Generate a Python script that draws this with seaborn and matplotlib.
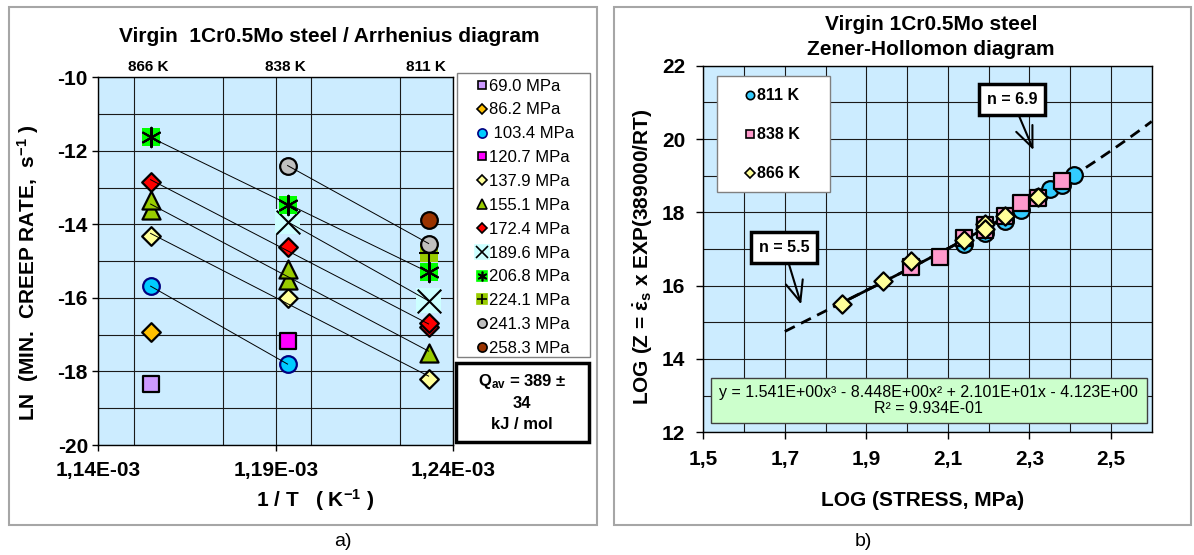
import matplotlib
matplotlib.use("Agg")
import matplotlib.pyplot as plt
from matplotlib.lines import Line2D
from matplotlib.patches import Rectangle
from matplotlib.ticker import MultipleLocator
import matplotlib.transforms as mtransforms
import numpy as np
import pandas as pd
import seaborn as sns

plt.rcParams["font.family"] = ["Liberation Sans", "DejaVu Sans"]
plt.rcParams["mathtext.fontset"] = "custom"
plt.rcParams["mathtext.rm"] = "Liberation Sans:bold"
plt.rcParams["mathtext.it"] = "Liberation Sans:bold"
plt.rcParams["mathtext.bf"] = "Liberation Sans:bold"
plt.rcParams["axes.unicode_minus"] = False

# a) Arrhenius diagram : ln(min. creep rate) for each temperature / stress
arr_temp = [866, 866, 866, 866, 866, 866, 866, 866,
            838, 838, 838, 838, 838, 838, 838, 838, 838,
            811, 811, 811, 811, 811, 811, 811, 811, 811]
arr_stress = ["69.0", "86.2", "103.4", "137.9", "155.1", "155.1", "172.4", "206.8",
              "103.4", "120.7", "137.9", "155.1", "155.1", "172.4", "189.6", "206.8", "241.3",
              "137.9", "155.1", "172.4", "172.4", "189.6", "206.8", "224.1", "241.3", "258.3"]
arr_lnrate = [-18.35, -16.92, -15.68, -14.32, -13.62, -13.34, -12.84, -11.62,
              -17.80, -17.17, -16.01, -15.51, -15.20, -14.61, -13.93, -13.47, -12.40,
              -18.20, -17.51, -16.78, -16.69, -16.08, -15.29, -14.79, -14.52, -13.88]
stress_levels = ["69.0", "86.2", "103.4", "120.7", "137.9", "155.1",
                 "172.4", "189.6", "206.8", "224.1", "241.3", "258.3"]
temp_labels = [866, 838, 811]
arr_xticks = ["1,14E-03", "1,19E-03", "1,24E-03"]

# b) Zener-Hollomon diagram
zh_temp = [811] * 9 + [838] * 9 + [866] * 8
zh_logstress = [2.14, 2.19, 2.24, 2.24, 2.28, 2.32, 2.35, 2.38, 2.41,
                2.01, 2.08, 2.14, 2.19, 2.19, 2.24, 2.28, 2.32, 2.38,
                1.84, 1.94, 2.01, 2.14, 2.19, 2.19, 2.24, 2.32]
zh_logz = [17.15, 17.45, 17.81, 17.77, 18.07, 18.41, 18.63, 18.75, 19.03,
           16.52, 16.79, 17.29, 17.65, 17.51, 17.90, 18.25, 18.40, 18.86,
           15.50, 16.12, 16.66, 17.25, 17.67, 17.55, 17.89, 18.42]
fit_coef = [1.541, -8.448, 21.01, -4.123]
zh_xticks = ["1,5", "1,7", "1,9", "2,1", "2,3", "2,5"]

# marker layers per stress : (marker, face, edge, size)
styles = {
    "69.0": [("s", "#CC99FF", "black", 11)],
    "86.2": [("D", "#FFC000", "black", 9.5)],
    "103.4": [("o", "#00CCFF", "#000080", 12)],
    "120.7": [("s", "#FF00FF", "black", 11.5)],
    "137.9": [("D", "#FFFF99", "black", 9.5)],
    "155.1": [("^", "#99CC00", "black", 13)],
    "172.4": [("D", "#FF0000", "black", 9.5)],
    "189.6": [("s", "#CCFFFF", "none", 18), ("x", "black", None, 17)],
    "206.8": [("s", "#00FF00", "none", 13), ((6, 2, 0), "black", None, 14)],
    "224.1": [("s", "#99CC00", "none", 13), ("+", "black", None, 14)],
    "241.3": [("o", "#C0C0C0", "black", 12)],
    "258.3": [("o", "#993300", "black", 12)],
}
zh_styles = {811: ("o", "#33CCFF", 12), 838: ("s", "#FF99CC", 11.5), 866: ("D", "#FFFF99", 9.3)}

W, H = 1194, 555
def fx(px):
    return px / W
def fy(py):
    return 1 - py / H

BG = "#CCECFF"
GRID = "#1A1A1A"

fig = plt.figure(figsize=(W / 100, H / 100), dpi=100)

# panel frames
fig.add_artist(Rectangle((fx(9), fy(525)), fx(597) - fx(9), fy(7.3) - fy(525),
                         transform=fig.transFigure, fill=False, ec="#A6A6A6", lw=1.5))
fig.add_artist(Rectangle((fx(614), fy(525)), fx(1191) - fx(614), fy(7.3) - fy(525),
                         transform=fig.transFigure, fill=False, ec="#A6A6A6", lw=1.5))

# ---------------- a) Arrhenius ----------------
df = pd.DataFrame({"T": arr_temp, "stress": arr_stress, "ln": arr_lnrate})
df["invT"] = 1.0 / df["T"]

ax1 = fig.add_axes([fx(98.3), fy(445), fx(453.3) - fx(98.3), fy(77.3) - fy(445)])
ax1.set_facecolor(BG)

for st in stress_levels:
    sub = df[df["stress"] == st]
    for m, fc, ec, ms in styles[st]:
        if ec is None:
            sns.scatterplot(data=sub, x="invT", y="ln", marker=m, s=ms ** 2, color=fc,
                            linewidth=1.5, ax=ax1, zorder=3, legend=False)
        else:
            sns.scatterplot(data=sub, x="invT", y="ln", marker=m, s=ms ** 2, color=fc,
                            edgecolor=ec, linewidth=1.6, ax=ax1, zorder=3, legend=False)
    if sub["T"].nunique() > 1:
        sns.regplot(data=sub, x="invT", y="ln", scatter=False, ci=None, truncate=True,
                    color="black", line_kws=dict(lw=0.7, zorder=4), ax=ax1)

ax1.set_xlim(1.14e-3, 1.24e-3)
ax1.set_ylim(-20, -10)
ax1.set_xticks([1.14e-3, 1.19e-3, 1.24e-3])
ax1.set_xticklabels(arr_xticks)
ax1.xaxis.set_minor_locator(MultipleLocator(0.025e-3))
ax1.set_yticks(np.arange(-20, -9, 2))
ax1.set_yticklabels([str(v) for v in range(-20, -9, 2)])
ax1.yaxis.set_minor_locator(MultipleLocator(1))
ax1.grid(which="both", color=GRID, lw=0.8)
ax1.set_axisbelow(True)
ax1.tick_params(which="major", direction="out", length=4.5, width=1, labelsize=15)
ax1.tick_params(axis="x", pad=7)
ax1.tick_params(axis="y", pad=3)
ax1.tick_params(which="minor", length=0)
for lab in ax1.get_xticklabels() + ax1.get_yticklabels():
    lab.set_fontweight("bold")
for sp in ax1.spines.values():
    sp.set_color("black")
    sp.set_linewidth(1)
ax1.set_xlabel("")
ax1.set_ylabel("")

tr = mtransforms.blended_transform_factory(ax1.transData, fig.transFigure)
for T in temp_labels:
    ax1.text(1.0 / T - 0.0007e-3, fy(66.7), f"{T} K", transform=tr, ha="center", va="center",
             fontsize=11, fontweight="bold")

fig.text(fx(329), fy(36.7), "Virgin  1Cr0.5Mo steel / Arrhenius diagram", ha="center",
         va="center", fontsize=15, fontweight="bold")
fig.text(fx(28), fy(273), "LN  (MIN.  CREEP RATE,  s$^{-1}$ )", rotation=90, ha="center",
         va="center", fontsize=15, fontweight="bold")
fig.text(fx(315), fy(500), "1 / T   ( K$^{-1}$ )", ha="center", va="center",
         fontsize=15, fontweight="bold")

# legend of stresses (frame drawn separately, content centred)
fig.add_artist(Rectangle((fx(456.7), fy(356.7)), fx(589.5) - fx(456.7), fy(73.3) - fy(356.7),
                         transform=fig.transFigure, fc="white", ec="#808080", lw=1))
handles = []
for st in stress_levels:
    parts = []
    for m, fc, ec, ms in styles[st]:
        if ec is None:
            parts.append(Line2D([], [], ls="none", marker=m, color=fc, markersize=ms * 0.5, mew=1.2))
        else:
            parts.append(Line2D([], [], ls="none", marker=m, mfc=fc, mec=ec if ec != "none" else fc,
                                markersize=ms * 0.55, mew=1.2))
    handles.append(tuple(parts))
labels = [(" " if st == "103.4" else "") + st + " MPa" for st in stress_levels]
leg = fig.legend(handles, labels, loc="upper center", bbox_to_anchor=(fx(525), fy(74.5)),
                 bbox_transform=fig.transFigure, frameon=False, fontsize=12,
                 handlelength=0.7, handletextpad=0.1, labelspacing=0.53, borderpad=0.25,
                 borderaxespad=0)

# Q box
fig.add_artist(Rectangle((fx(455.7), fy(441.7)), fx(589) - fx(455.7), fy(363.3) - fy(441.7),
                         transform=fig.transFigure, fc="white", ec="black", lw=2.5))
fig.text(fx(522), fy(402), "Q$_{av}$ = 389 ±\n34\nkJ / mol", ha="center", va="center",
         fontsize=12, fontweight="bold", linespacing=1.45)

# ---------------- b) Zener-Hollomon ----------------
zh = pd.DataFrame({"T": zh_temp, "logs": zh_logstress, "logz": zh_logz})
ax2 = fig.add_axes([fx(703.3), fy(432.3), fx(1151.7) - fx(703.3), fy(65.7) - fy(432.3)])
ax2.set_facecolor(BG)

xs = np.linspace(1.7, 2.6, 200)
sns.lineplot(x=xs, y=np.polyval(fit_coef, xs), color="black", lw=2, linestyle=(0, (4, 2.5)),
             ax=ax2, zorder=2)
xin = np.linspace(zh["logs"].min(), zh["logs"].max(), 100)
sns.lineplot(x=xin, y=np.polyval(fit_coef, xin), color="black", lw=2, ax=ax2, zorder=2)

for T in [811, 838, 866]:
    m, c, ms = zh_styles[T]
    sns.scatterplot(data=zh[zh["T"] == T], x="logs", y="logz", marker=m, s=ms ** 2, color=c,
                    edgecolor="black", linewidth=1.6, ax=ax2, zorder=3, legend=False)

ax2.set_xlim(1.5, 2.6)
ax2.set_ylim(12, 22)
ax2.set_xticks(np.arange(1.5, 2.55, 0.2))
ax2.set_xticklabels(zh_xticks)
ax2.xaxis.set_minor_locator(MultipleLocator(0.1))
ax2.set_yticks(np.arange(12, 23, 2))
ax2.yaxis.set_minor_locator(MultipleLocator(1))
ax2.grid(which="both", color=GRID, lw=0.8)
ax2.set_axisbelow(True)
ax2.tick_params(which="major", direction="out", length=5, width=1, labelsize=15, pad=8)
ax2.tick_params(which="minor", length=0)
for lab in ax2.get_xticklabels() + ax2.get_yticklabels():
    lab.set_fontweight("bold")
for sp in ax2.spines.values():
    sp.set_color("black")
    sp.set_linewidth(1)
ax2.set_xlabel("")
ax2.set_ylabel("")

# temperature legend (frame drawn separately, content centred)
ax2.add_patch(Rectangle((fx(716.7), fy(192.3)), fx(830) - fx(716.7), fy(76) - fy(192.3),
                        transform=fig.transFigure, fc="white", ec="#808080", lw=1, zorder=4))
zh_handles = [Line2D([], [], ls="none", marker=zh_styles[T][0], mfc=zh_styles[T][1], mec="black",
                     markersize=zh_styles[T][2] * 0.5, mew=1.2) for T in [811, 838, 866]]
leg2 = ax2.legend(zh_handles, [f"{T} K" for T in [811, 838, 866]], loc="upper center",
                  bbox_to_anchor=(fx(773), fy(85)), bbox_transform=fig.transFigure,
                  frameon=False, prop=dict(size=11.5, weight="bold"),
                  handlelength=0.5, handletextpad=0.15, labelspacing=1.5, borderpad=0.2,
                  borderaxespad=0)
leg2.set_zorder(6)

box = dict(boxstyle="square,pad=0.5", fc="white", ec="black", lw=2.5)
arrow = dict(arrowstyle="->,head_length=1.3,head_width=0.55", color="black", lw=1.5,
             shrinkA=0, shrinkB=0)
ax2.annotate("n = 5.5", xy=(1.74, 15.49), xytext=(1.698, 17.03), ha="center", va="center",
             fontsize=11.5, fontweight="bold", bbox=box, arrowprops=arrow, zorder=5)
ax2.annotate("n = 6.9", xy=(2.31, 19.70), xytext=(2.257, 21.09), ha="center", va="center",
             fontsize=11.5, fontweight="bold", bbox=box, arrowprops=arrow, zorder=5)

ax2.add_patch(Rectangle((0.0165, 0.026), 0.989 - 0.0165, 0.147 - 0.026, transform=ax2.transAxes,
                        fc="#CCFFCC", ec="#404040", lw=1, zorder=5))
ax2.text(0.503, 0.087, "y = 1.541E+00x³ - 8.448E+00x² + 2.101E+01x - 4.123E+00\nR² = 9.934E-01",
         transform=ax2.transAxes, ha="center", va="center", fontsize=11.5,
         linespacing=1.15, zorder=6)

fig.text(fx(931), fy(25), "Virgin 1Cr0.5Mo steel", ha="center", va="center",
         fontsize=15, fontweight="bold")
fig.text(fx(931), fy(49.3), "Zener-Hollomon diagram", ha="center", va="center",
         fontsize=15, fontweight="bold")
fig.text(fx(643), fy(257), r"LOG (Z = $\dot{\varepsilon}_s$ x EXP(389000/RT)", rotation=90,
         ha="center", va="center", fontsize=15, fontweight="bold")
fig.text(fx(923), fy(500), "LOG (STRESS, MPa)", ha="center", va="center",
         fontsize=15, fontweight="bold")

fig.text(fx(343), fy(541.7), "a)", ha="center", va="center", fontsize=14)
fig.text(fx(863), fy(541.7), "b)", ha="center", va="center", fontsize=14)

fig.savefig("out.png", dpi=100)
